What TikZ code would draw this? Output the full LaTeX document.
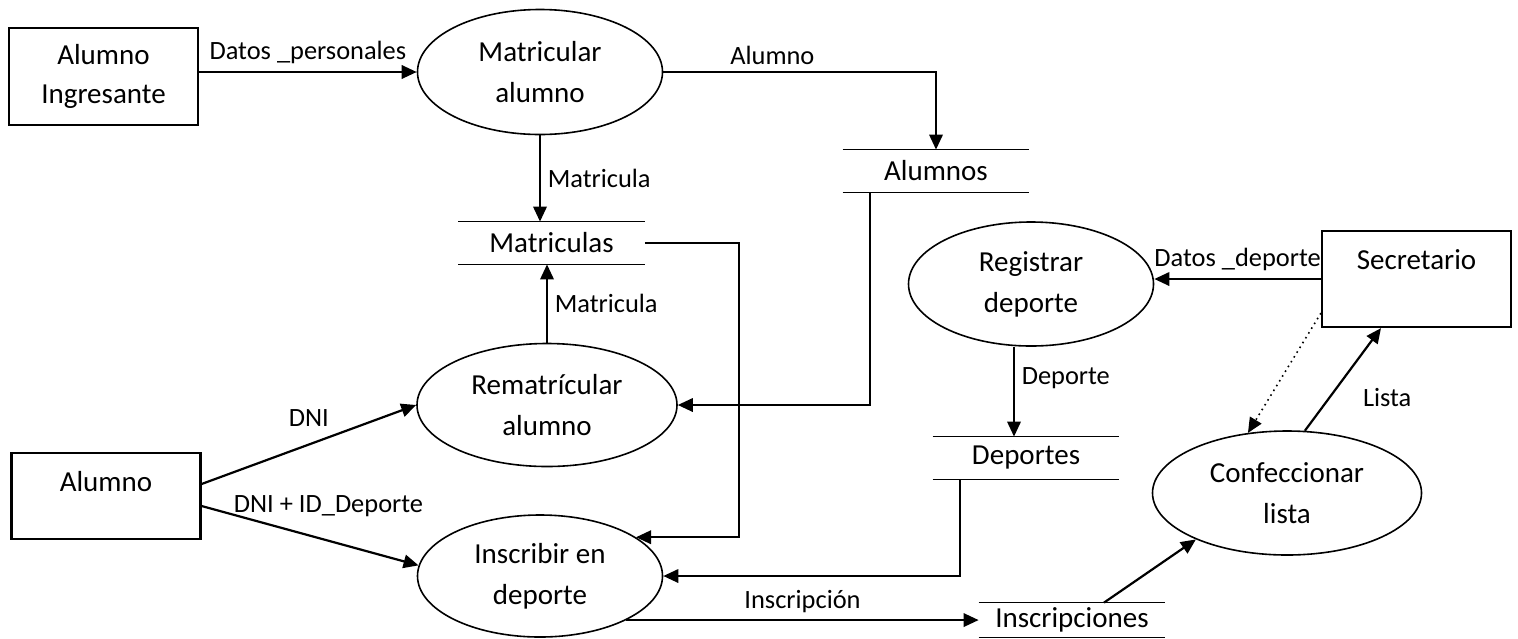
\documentclass[tikz,border=0pt]{standalone}
\usepackage{fontspec}
\setmainfont{Carlito}
\usetikzlibrary{arrows.meta,shapes.geometric}

\tikzset{
  proc/.style={draw, ellipse, line width=0.8pt, inner sep=0pt, align=center, font=\fontsize{14.5}{20.5}\selectfont},
  ent/.style={draw, rectangle, line width=1.1pt, inner sep=0pt, minimum width=94.5pt, font=\fontsize{14.5}{19.5}\selectfont},
  store/.style={inner sep=0pt, minimum width=93pt, minimum height=21pt, font=\fontsize{14.5}{19.5}\selectfont},
  flow/.style={line width=1.1pt, -{Triangle[length=7.5pt,width=6.7pt]}},
  lbl/.style={font=\fontsize{13.2}{16}\selectfont}
}

\begin{document}
\begin{tikzpicture}[x=0.5pt, y=-0.5pt]
    \useasboundingbox (0,0) rectangle (1518,638);

    % external entities
    \node[ent, minimum height=48.5pt, align=center] (ingr) at (103.5,76.5) {Alumno\\Ingresante};
    \node[ent, text height=19pt, text depth=24pt] (alu) at (106,496) {Alumno};
    \node[ent, text height=19pt, text depth=29pt] (secr) at (1416.5,279) {Secretario};

    % processes
    \node[proc, minimum width=122.5pt, minimum height=62.5pt] (matr) at (540,72) {Matricular\\alumno};
    \node[proc, minimum width=130pt, minimum height=61.5pt] (remat) at (547,405) {Rematrícular\\alumno};
    \node[proc, minimum width=122.5pt, minimum height=61pt] (inscr) at (540,576) {Inscribir en\\deporte};
    \node[proc, minimum width=122.5pt, minimum height=62pt] (regis) at (1031,284) {Registrar\\deporte};
    \node[proc, minimum width=134.5pt, minimum height=62pt] (confec) at (1287,493) {Confeccionar\\lista};

    % data stores
    \node[store] (alms) at (936,171) {Alumnos};
    \node[store] (mats) at (551.5,243) {Matriculas};
    \node[store] (deps) at (1026,458) {Deportes};
    \node[store, minimum height=17pt] (insc) at (1072,620) {Inscripciones};
    \foreach \s in {alms,mats,deps,insc}
        \draw[line width=0.8pt] (\s.north west) -- (\s.north east) (\s.south west) -- (\s.south east);

    % flows
    \draw[flow] (ingr.east |- matr.west) -- node[lbl, above] {Datos \_personales} (matr.west);
    \draw[flow] (matr.east) -| node[lbl, pos=0.2, above] {Alumno} (alms.north);
    \draw[flow] (matr.south) -- node[lbl, right] {Matricula} (matr.south |- mats.north);
    \draw[flow] (remat.north) -- node[lbl, right] {Matricula} (remat.north |- mats.south);
    \draw[flow] (mats.east) -- ++(94,0) |- (inscr.22);
    \draw[flow] ([xshift=13.5pt]alms.south west) |- (remat.east);
    \draw[flow] ([xshift=13.5pt]deps.south west) |- (inscr.east);
    \draw[flow] ([yshift=6pt]alu.east) -- node[lbl, above=5pt] {DNI} (remat.west);
    \draw[flow] ([yshift=-5pt]alu.east) -- node[lbl, pos=0.585, above=8pt] {DNI + ID\_Deporte} (inscr.175);
    \draw[flow] (inscr.-27) -- node[lbl, above] {Inscripción} (inscr.-27 -| insc.west);
    \draw[flow] ([xshift=16pt]insc.north) -- (confec.207);
    \draw[flow] (secr.west) -- node[lbl, above] {Datos \_deporte} (secr.west -| regis.east);
    \draw[flow] ([xshift=-8.5pt]regis.south) -- node[lbl, pos=0.35, right] {Deporte} ([xshift=-8.5pt]regis.south |- deps.north);
    \draw[flow] (confec.74) -- node[lbl, pos=0.32, right=13pt] {Lista} ([xshift=-17.75pt]secr.south);
    \draw[flow, line width=0.8pt, dotted] ([yshift=7.5pt]secr.south west) -- (confec.123);
\end{tikzpicture}
\end{document}
